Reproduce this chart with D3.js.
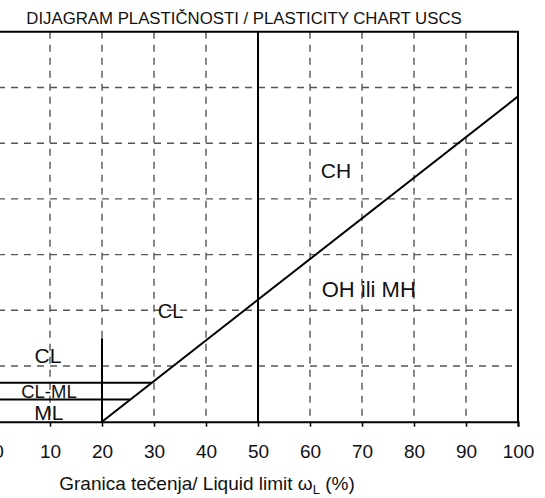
<!DOCTYPE html>
<html>
<head>
<meta charset="utf-8">
<script src="https://cdn.jsdelivr.net/npm/d3@7"></script>
<style>
  html, body { margin: 0; padding: 0; background: #fff; }
  svg { display: block; font-family: "Liberation Sans", Arial, sans-serif; }
</style>
</head>
<body>
<svg id="chart" width="545" height="498"></svg>
<script>
// Liquid limit axis (%) and plasticity index grid
const liquidLimitTicks = [0, 10, 20, 30, 40, 50, 60, 70, 80, 90, 100];
const liquidLimitGrid = [10, 20, 30, 40, 60, 70, 80, 90];
const plasticityGrid = [10, 20, 30, 40, 50, 60];
const liquidLimitDomain = [0, 100];
const plasticityDomain = [0, 70];

// A-line: PI = 0.73 (LL - 20)
const aLineSlope = 0.73;
const aLineOrigin = 20;
const aLineLL = [20, 100];

// Boundary between low and high plasticity
const highPlasticityLL = 50;

// CL-ML band limits (PI) and the LL = 20 divider
const clmlBand = [4, 7];
const dividerLL = 20;
const dividerTopPI = 15;

// Zone labels placed at (LL, PI) with font size
const zoneNames = ["CH", "OH ili MH", "CL", "CL", "CL-ML", "ML"];
const zoneLL = [65, 71.3, 33.2, 9.6, 9.8, 9.8];
const zonePI = [43.75, 22.4, 18.7, 10.6, 4.25, 0.3];
const zoneSize = [21, 22, 20, 21, 18.5, 21];

const titleText = "DIJAGRAM PLASTIČNOSTI / PLASTICITY CHART USCS";

const svg = d3.select("#chart");
const x = d3.scaleLinear().domain(liquidLimitDomain).range([-2, 518]);
const y = d3.scaleLinear().domain(plasticityDomain).range([421.7, 31.8]);
const aPI = ll => aLineSlope * (ll - aLineOrigin);
const aLL = pi => aLineOrigin + pi / aLineSlope;

// Title
svg.append("text")
  .attr("x", 244).attr("y", 23.5)
  .attr("text-anchor", "middle")
  .attr("font-size", 16.8).attr("fill", "#111")
  .text(titleText);

// Dashed grid
const grid = svg.append("g")
  .attr("stroke", "#555").attr("stroke-width", 1.4)
  .attr("stroke-dasharray", "7,6").attr("fill", "none");
grid.selectAll("line.v").data(liquidLimitGrid).join("line")
  .attr("class", "v")
  .attr("x1", d => x(d)).attr("x2", d => x(d))
  .attr("y1", y(plasticityDomain[1])).attr("y2", y(0));
grid.selectAll("line.h").data(plasticityGrid).join("line")
  .attr("class", "h")
  .attr("x1", x(0)).attr("x2", x(100))
  .attr("y1", d => y(d)).attr("y2", d => y(d));

// Zone labels (drawn beneath the solid lines)
svg.append("g").selectAll("text").data(zoneNames).join("text")
  .attr("x", (d, i) => x(zoneLL[i]))
  .attr("y", (d, i) => y(zonePI[i]))
  .attr("text-anchor", "middle")
  .attr("font-size", (d, i) => zoneSize[i])
  .attr("fill", "#111")
  .text(d => d);

// Solid lines
const solid = svg.append("g").attr("stroke", "#000").attr("stroke-width", 2).attr("fill", "none");

// Frame: top, right
solid.append("path")
  .attr("d", d3.line()([[x(0), y(70)], [x(100), y(70)], [x(100), y(0)]]));

// A-line
solid.append("path")
  .attr("d", d3.line().x(d => x(d)).y(d => y(aPI(d)))(aLineLL));

// LL = 50
solid.append("line")
  .attr("x1", x(highPlasticityLL)).attr("x2", x(highPlasticityLL))
  .attr("y1", y(70)).attr("y2", y(0));

// LL = 20 divider
solid.append("line")
  .attr("x1", x(dividerLL)).attr("x2", x(dividerLL))
  .attr("y1", y(dividerTopPI)).attr("y2", y(0));

// CL-ML band
solid.selectAll("line.band").data(clmlBand).join("line")
  .attr("class", "band")
  .attr("x1", x(0)).attr("x2", d => x(aLL(d)))
  .attr("y1", d => y(d)).attr("y2", d => y(d));

// Bottom axis
const axis = d3.axisBottom(x).tickValues(liquidLimitTicks).tickSize(5).tickPadding(10).tickFormat(d3.format("d"));
const gx = svg.append("g").attr("transform", `translate(0,${y(0)})`).call(axis);
gx.select(".domain").attr("stroke", "#000").attr("stroke-width", 2);
gx.selectAll(".tick line").attr("stroke", "#000").attr("stroke-width", 1.5);
gx.selectAll(".tick text")
  .attr("font-size", 19).attr("fill", "#111")
  .attr("font-family", "'Liberation Sans', Arial, sans-serif")
  .attr("dy", null).attr("y", 36.3);

// Axis title
const xt = svg.append("text")
  .attr("x", 207).attr("y", 490)
  .attr("text-anchor", "middle")
  .attr("font-size", 19).attr("fill", "#111");
xt.append("tspan").text("Granica tečenja/ Liquid limit ω");
xt.append("tspan").attr("font-size", 13).attr("dy", 4).text("L");
xt.append("tspan").attr("dy", -4).text(" (%)");
</script>
</body>
</html>
